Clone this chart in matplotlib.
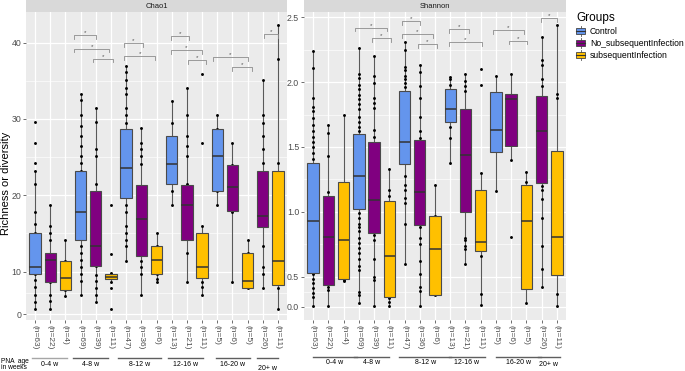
import numpy as np
import matplotlib
matplotlib.use('Agg')
import matplotlib.pyplot as plt
from matplotlib.patches import Rectangle, Patch
from matplotlib.lines import Line2D
from matplotlib.legend_handler import HandlerBase
from matplotlib import transforms

plt.rcParams['font.family'] = ['Liberation Sans', 'DejaVu Sans']

############################################
# data
groups = ['Control', 'No_subsequentInfection', 'subsequentInfection']
colors = {'Control': '#6495ED', 'No_subsequentInfection': '#800080',
          'subsequentInfection': '#FFC000'}
box_group = ['Control', 'No_subsequentInfection', 'subsequentInfection'] * 5 + \
            ['No_subsequentInfection', 'subsequentInfection']
n_obs = [63, 22, 4, 69, 39, 11, 47, 36, 6, 13, 21, 11, 5, 6, 5, 26, 11]
age_labels = ['0-4 w', '4-8 w', '8-12 w', '12-16 w', '16-20 w', '20+ w']

chao1_q1 = [9.4, 7.65, 5.7, 14.2, 10.75, 8.2, 19.6, 12.1, 9.4, 21.45, 14.2, 8.45, 20.5, 18.0, 6.1, 15.9, 6.9]
chao1_med = [10.6, 11.5, 8.5, 17.8, 13.4, 8.8, 23.6, 16.9, 11.5, 24.1, 18.7, 10.6, 25.1, 21.1, 7.75, 17.3, 11.4]
chao1_q3 = [15.1, 12.4, 11.4, 23.2, 20.5, 9.4, 28.7, 21.4, 13.3, 27.8, 21.4, 15.1, 28.7, 24.0, 12.4, 23.2, 23.2]
chao1_lo = [1.2, 1.2, 4.4, 4.5, 2.8, 7.65, 11.4, 4.5, 7.65, 18.7, 7.65, 4.5, 18.7, 7.65, 6.1, 6.1, 1.2]
chao1_hi = [23.2, 18.7, 14.2, 33.3, 31.4, 9.7, 36.9, 28.8, 15.1, 32.4, 34.0, 16.0, 30.5, 26.8, 14.2, 35.1, 42.3]
chao1_points = [
    [29.6, 26.8, 24.2, 23.2, 21.5, 17.8, 16.3, 15.0, 9.4, 8.05, 6.3, 4.5, 2.8, 1.2],
    [18.7, 16.0, 15.1, 14.2, 7.65, 4.5, 3.2, 1.2],
    [14.2, 11.4, 5.7, 4.4],
    [33.3, 32.5, 30.5, 29.1, 27.8, 26.4, 25.1, 24.2, 23.2, 13.4, 12.5, 11.5, 10.6, 9.4, 7.7, 4.5],
    [31.4, 29.6, 26.0, 25.1, 21.5, 10.7, 9.2, 7.7, 6.1, 4.5, 2.8],
    [18.7, 12.3, 9.7, 7.65, 6.1, 1.2],
    [36.9, 36.2, 35.1, 34.0, 33.2, 31.4, 30.5, 29.5, 18.7, 17.8, 16.0, 15.1, 14.2, 13.3, 11.4],
    [28.8, 26.8, 26.0, 25.1, 24.1, 11.4, 10.6, 9.4, 4.5],
    [15.1, 13.3, 9.4, 8.3, 7.65],
    [32.4, 29.5, 20.5, 18.7],
    [34.0, 30.5, 27.8, 26.4, 25.1, 21.5, 12.4, 7.65],
    [35.9, 26.8, 16.0, 7.65, 6.3, 4.5],
    [30.5, 28.7, 20.5, 18.7],
    [26.8, 24.0, 17.8, 7.65],
    [14.2, 12.4, 6.1],
    [35.1, 30.5, 29.5, 27.8, 26.0, 24.2, 13.3, 10.6, 9.4, 6.1],
    [42.3, 37.8, 24.2, 6.1, 1.2],
]

shannon_q1 = [0.53, 0.36, 0.47, 1.02, 0.84, 0.16, 1.37, 0.90, 0.195, 1.69, 1.00, 0.70, 1.46, 1.51, 0.295, 1.22, 0.51]
shannon_med = [0.93, 0.81, 0.78, 1.28, 1.09, 0.66, 1.54, 1.15, 0.71, 1.79, 1.44, 0.77, 1.63, 1.87, 0.93, 1.62, 0.81]
shannon_q3 = [1.38, 1.12, 1.23, 1.60, 1.54, 1.08, 1.93, 1.55, 0.97, 1.95, 1.79, 1.17, 1.92, 1.91, 1.21, 1.89, 1.47]
shannon_lo = [0.01, 0.01, 0.43, 0.06, 0.01, 0.01, 0.60, 0.01, 0.195, 1.38, 0.60, 0.03, 1.16, 1.40, 0.07, 0.33, 0.01]
shannon_hi = [2.24, 1.67, 1.75, 2.26, 2.20, 1.33, 2.31, 2.13, 1.21, 2.04, 2.06, 1.30, 2.05, 2.06, 1.31, 2.35, 2.44]
shannon_points = [
    [2.24, 2.11, 1.88, 1.81, 1.78, 1.72, 1.67, 1.62, 1.58, 1.54, 1.50, 1.45, 1.41,
     0.52, 0.47, 0.39, 0.31, 0.23, 0.17, 0.01],
    [1.67, 1.61, 1.43, 1.15, 0.33, 0.28, 0.01],
    [1.75, 0.45, 0.43],
    [2.26, 2.06, 2.03, 1.98, 1.95, 1.90, 1.87, 1.83, 1.79, 1.73, 1.69, 1.65, 1.62,
     0.99, 0.95, 0.91, 0.88, 0.85, 0.80, 0.76, 0.72, 0.68, 0.64, 0.58, 0.55, 0.25, 0.19, 0.06],
    [2.20, 2.05, 1.99, 1.88, 1.84, 1.80, 1.63, 1.58, 0.82, 0.78, 0.64, 0.49, 0.44, 0.02],
    [1.33, 1.17, 1.12, 0.15, 0.08, 0.02],
    [2.31, 2.25, 2.12, 2.09, 2.05, 2.02, 1.99, 1.96, 1.28, 1.21, 1.17, 1.11, 1.07, 0.91, 0.60],
    [2.13, 2.08, 1.97, 1.88, 1.73, 1.62, 1.57, 0.88, 0.80, 0.75, 0.62, 0.52, 0.33, 0.27, 0.01],
    [1.21, 0.97, 0.20],
    [2.04, 2.02, 1.98, 1.65, 1.57, 1.38],
    [2.06, 2.01, 1.97, 1.93, 0.80, 0.78, 0.74, 0.71, 0.60],
    [2.10, 1.98, 1.30, 0.66, 0.22, 0.03],
    [2.05, 1.16],
    [2.06, 1.40, 0.81],
    [1.31, 1.23, 0.07],
    [2.35, 2.17, 2.13, 2.02, 1.97, 1.20, 1.17, 1.10, 0.95, 0.74, 0.56, 0.33],
    [2.44, 1.91, 1.88, 0.22, 0.01],
]

# significance brackets: (from, to, height) in category units
chao1_sig = [(3.56, 5.0, 41.0), (3.56, 5.89, 39.2), (4.8, 6.15, 37.9),
             (6.88, 8.09, 39.9), (6.88, 8.92, 38.2),
             (9.98, 11.17, 40.8), (9.98, 11.98, 39.0), (11.06, 12.25, 37.7),
             (12.75, 15.0, 38.1), (13.96, 15.28, 36.8), (16.07, 17.03, 41.1)]
shannon_sig = [(3.76, 5.83, 2.42), (4.86, 6.09, 2.34),
               (6.82, 8.04, 2.47), (6.82, 8.86, 2.37), (7.89, 9.12, 2.29),
               (9.93, 11.2, 2.41), (9.93, 12.08, 2.31),
               (12.78, 14.82, 2.40), (13.83, 15.04, 2.32), (15.96, 17.01, 2.49)]

# age group spans under each panel (category units)
chao1_age_span = [(0.8, 3.08), (3.48, 5.83), (6.48, 9.28), (9.78, 12.09), (12.9, 15.17), (15.65, 17.03)]
shannon_age_span = [(0.96, 3.86), (3.68, 6.0), (6.66, 10.06), (9.9, 12.25), (13.02, 15.96), (15.76, 17.18)]


############################################
def squeeze(brk, k):
    # y axis is compressed below brk
    def fwd(v):
        v = np.asarray(v, dtype=float)
        return np.where(v >= brk, v, brk - (brk - v) * k)
    def inv(v):
        v = np.asarray(v, dtype=float)
        return np.where(v >= brk, v, brk - (brk - v) / k)
    return fwd, inv


class BoxKey(HandlerBase):
    def create_artists(self, legend, orig_handle, xdescent, ydescent,
                       width, height, fontsize, trans):
        x0, y0 = -xdescent, -ydescent
        wl = Line2D([x0 + width / 2] * 2, [y0 - 1.5, y0 + height + 1.5],
                    color='#555555', lw=0.6, transform=trans)
        r = Rectangle((x0, y0), width, height, facecolor=orig_handle.get_facecolor(),
                      edgecolor='#444444', lw=0.6, transform=trans)
        m = Line2D([x0, x0 + width], [y0 + height / 2] * 2, color='#333333',
                   lw=0.8, transform=trans)
        return [wl, r, m]


def panel(fig, rect, title, q1, med, q3, lo, hi, points, sig, tip,
          ylim, yticks, yminor, brk, k, spans, line_y, text_y):
    ax = fig.add_axes(rect)
    ax.set_facecolor('#EBEBEB')
    fwd, inv = squeeze(brk, k)
    ax.set_yscale('function', functions=(fwd, inv))
    pos = np.arange(1, len(q1) + 1)
    stats = [dict(q1=a, med=b, q3=c, whislo=d, whishi=e)
             for a, b, c, d, e in zip(q1, med, q3, lo, hi)]
    bp = ax.bxp(stats, positions=pos, widths=0.75, patch_artist=True,
                showfliers=False, showcaps=False,
                boxprops=dict(edgecolor='#4a4a4a', lw=0.8),
                medianprops=dict(color='#333333', lw=1.1),
                whiskerprops=dict(color='#595959', lw=0.8))
    for b, g in zip(bp['boxes'], box_group):
        b.set_facecolor(colors[g])
        b.set_zorder(3)
    for w in bp['whiskers']:
        w.set_zorder(2)
    for m in bp['medians']:
        m.set_zorder(3.1)
    for p, pts in zip(pos, points):
        ax.plot(np.full(len(pts), p), pts, 'o', ms=2.1, color='black',
                mec='black', mew=0, zorder=2.5)
    for x1, x2, y in sig:
        ax.plot([x1, x1, x2, x2], [y - tip, y, y, y - tip], color='#8c8c8c',
                lw=0.6, zorder=4)
        ax.text((x1 + x2) / 2, y, '*', ha='center', va='bottom', fontsize=4.5,
                color='#555555', zorder=4)
    ax.set_xlim(0.4, len(q1) + 0.6)
    ax.set_ylim(*ylim)
    ax.set_xticks(pos)
    ax.set_xticklabels(['(n=%d)' % n for n in n_obs], rotation=270,
                       fontsize=6, color='#4D4D4D', va='top')
    ax.set_yticks(yticks)
    ax.set_yticklabels([('%g' % t) if isinstance(t, int) else ('%.1f' % t) for t in yticks],
                       fontsize=6.3, color='#4D4D4D')
    ax.set_yticks(yminor, minor=True)
    ax.tick_params(axis='both', which='major', length=2, width=0.5,
                   color='#333333', pad=1.5)
    ax.tick_params(axis='y', which='minor', length=0)
    ax.grid(True, which='major', color='white', lw=0.9)
    ax.grid(True, which='minor', axis='y', color='white', lw=0.45)
    ax.set_axisbelow(True)
    for s in ax.spines.values():
        s.set_visible(False)

    # facet strip
    st = fig.add_axes([rect[0], rect[1] + rect[3], rect[2], 12 / 371])
    st.set_facecolor('#D9D9D9')
    st.set_xticks([])
    st.set_yticks([])
    for s in st.spines.values():
        s.set_visible(False)
    st.text(0.5, 0.5, title, ha='center', va='center', fontsize=5.5,
            color='#1A1A1A', transform=st.transAxes)

    # age groups under the axis
    tr = transforms.blended_transform_factory(ax.transData, fig.transFigure)
    for i, ((a, b), lab) in enumerate(zip(spans, age_labels)):
        lc = '#a6a6a6' if (i == 0 and brk > 5) else '#5f5f5f'
        ax.plot([a, b], [line_y, line_y], color=lc, lw=1.0, transform=tr,
                clip_on=False)
        dy = -3 / 371 if lab == '20+ w' else 0
        ax.text((a + b) / 2, text_y + dy, lab, ha='center', va='center',
                fontsize=5, transform=tr)
    return ax


fig = plt.figure(figsize=(6.85, 3.71), dpi=100)
H = 371.0
W = 685.0
bottom = (H - 320) / H
height = 308 / H

panel(fig, [26 / W, bottom, 261 / W, height], 'Chao1',
      chao1_q1, chao1_med, chao1_q3, chao1_lo, chao1_hi, chao1_points,
      chao1_sig, 0.5, (-1.34, 44.0), [0, 10, 20, 30, 40], [5, 15, 25, 35],
      10, 0.558, chao1_age_span, 1 - 358 / H, 1 - 365 / H)
panel(fig, [304 / W, bottom, 262 / W, height], 'Shannon',
      shannon_q1, shannon_med, shannon_q3, shannon_lo, shannon_hi, shannon_points,
      shannon_sig, 0.03, (-0.22, 2.54), [0.0, 0.5, 1.0, 1.5, 2.0, 2.5],
      [0.25, 0.75, 1.25, 1.75, 2.25], 0.5, 0.463, shannon_age_span,
      1 - 357.3 / H, 1 - 362 / H)

fig.text(6 / W, 1 - 183.5 / H, 'Richness or diversity', rotation=90,
         ha='center', va='center', fontsize=8)
fig.text(1 / W, 1 - 361.5 / H, 'PNA  age', fontsize=4.8, va='center', ha='left')
fig.text(1 / W, 1 - 367.5 / H, 'in weeks', fontsize=4.8, va='center', ha='left')

handles = [Patch(facecolor=colors[g]) for g in groups]
leg = fig.legend(handles, groups, loc='upper left',
                 bbox_to_anchor=(570 / W, 1 - 6 / H), frameon=False,
                 fontsize=6.2, title='Groups', title_fontsize=8.5,
                 alignment='left', handlelength=1.1, handleheight=0.8,
                 handletextpad=0.5, labelspacing=0.35, borderpad=0.2,
                 handler_map={Patch: BoxKey()})

fig.savefig('out.png', dpi=100)
